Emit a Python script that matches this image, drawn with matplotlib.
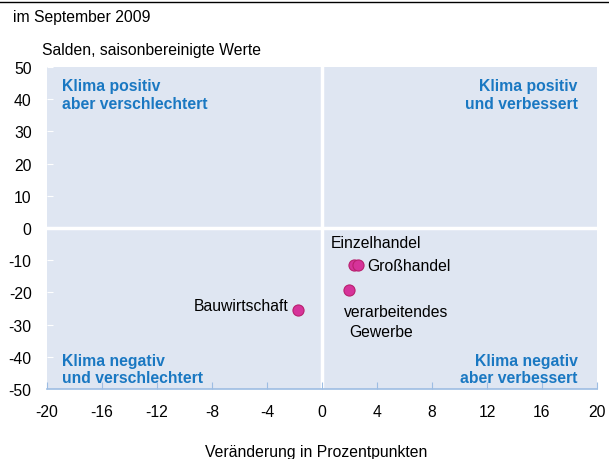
import matplotlib.pyplot as plt
from matplotlib.lines import Line2D

plt.rcParams["font.family"] = ["Liberation Sans", "DejaVu Sans"]

# Veränderung (Prozentpunkte) und Salden, September 2009
sectors = ["Einzelhandel", "Großhandel", "verarbeitendes", "Bauwirtschaft"]
change = [2.3, 2.6, 2.0, -1.75]
balance = [-11.5, -11.5, -19.3, -25.3]

x_ticks = [-20, -16, -12, -8, -4, 0, 4, 8, 12, 16, 20]
y_ticks = [-50, -40, -30, -20, -10, 0, 10, 20, 30, 40, 50]

quadrants = [
    ("Klima positiv\naber verschlechtert", -18.9, 46.5, "left", "top"),
    ("Klima positiv\nund verbessert", 18.6, 46.5, "right", "top"),
    ("Klima negativ\nund verschlechtert", -18.9, -48.8, "left", "bottom"),
    ("Klima negativ\naber verbessert", 18.6, -48.8, "right", "bottom"),
]

BG = "#dfe6f2"
BLUE = "#1a78c2"
FS = 11.3

fig = plt.figure(figsize=(6.09, 4.60), dpi=100)
ax = fig.add_axes([0.0772, 0.152, 0.903, 0.700])
ax.set_facecolor(BG)
ax.set_xlim(-20, 20)
ax.set_ylim(-50, 50)

ax.axvline(0, color="white", lw=2.5, zorder=1)
ax.axhline(0, color="white", lw=2.5, zorder=1)

ax.plot(change, balance, "o", ms=8, mfc="#d6339a", mec="#b8206e",
        mew=0.8, zorder=3)

# labels next to the points
ax.text(3.9, -4.6, sectors[0], ha="center", va="center", fontsize=FS)
ax.text(change[1] + 0.7, balance[1], sectors[1], ha="left", va="center",
        fontsize=FS)
ax.text(1.6, -25.8, sectors[2], ha="left", va="center", fontsize=FS)
ax.text(1.95, -32.0, "Gewerbe", ha="left", va="center", fontsize=FS)
ax.text(-2.4, -24.0, sectors[3], ha="right", va="center", fontsize=FS)

for txt, x, y, ha, va in quadrants:
    ax.text(x, y, txt, ha=ha, va=va, color=BLUE, fontsize=FS,
            fontweight="bold", linespacing=1.2)

ax.set_xticks(x_ticks)
ax.set_xticklabels([str(t) for t in x_ticks], fontsize=FS)
ax.set_yticks(y_ticks)
ax.set_yticklabels([str(t) for t in y_ticks], fontsize=FS)
ax.tick_params(axis="x", direction="in", length=5, color="#9dbde3",
               pad=11)
ax.tick_params(axis="y", direction="in", length=4, color="white", pad=11)

for s in ["top", "right", "left"]:
    ax.spines[s].set_visible(False)
ax.spines["bottom"].set_color("#9dbde3")
ax.spines["bottom"].set_linewidth(1.2)

fig.text(0.52, 0.017, "Veränderung in Prozentpunkten", fontsize=FS,
         ha="center", va="center")
fig.text(0.021, 0.962, "im September 2009", fontsize=FS, va="center")
fig.text(0.069, 0.89, "Salden, saisonbereinigte Werte", fontsize=FS,
         va="center")
fig.add_artist(Line2D([0, 1], [0.994, 0.994], color="black", lw=1))

fig.savefig("out.png", dpi=100)
